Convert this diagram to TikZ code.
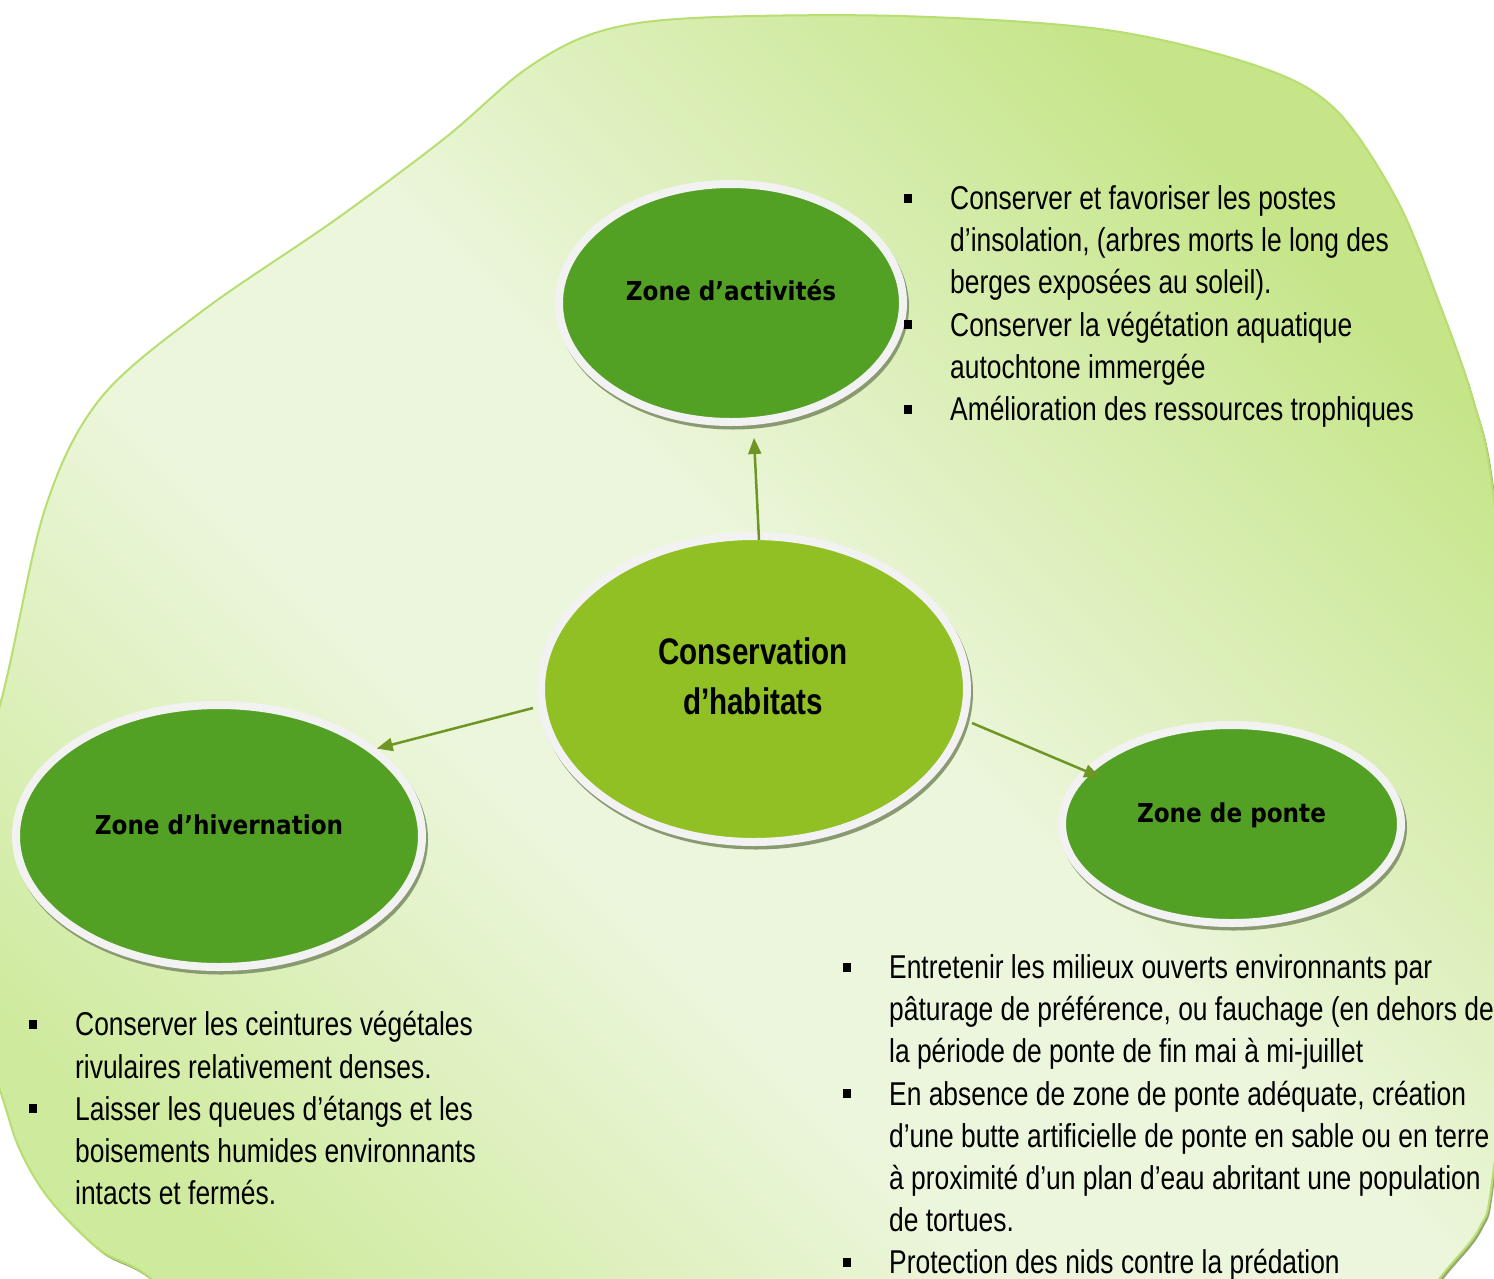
\documentclass[tikz,border=0pt]{standalone}
\usepackage{fontspec}
\setmainfont{Liberation Sans}
\newfontfamily\narrowfont[FakeStretch=0.8]{Liberation Sans}
\newfontfamily\zonefont[FakeStretch=0.89]{DejaVu Sans}
\usetikzlibrary{shapes.geometric,arrows.meta}
\definecolor{darkgr}{RGB}{83,161,36}
\definecolor{limegr}{RGB}{145,192,36}
\definecolor{ringc}{RGB}{242,242,242}
\definecolor{shadc}{RGB}{138,154,112}
\definecolor{arrc}{RGB}{111,150,36}
\definecolor{blobtr}{RGB}{197,229,136}
\definecolor{blobbl}{RGB}{206,234,156}
\definecolor{bloblight}{RGB}{236,246,220}
\definecolor{blobline}{RGB}{182,222,112}
\definecolor{blobshad}{RGB}{150,168,110}
\pgfdeclareverticalshading{blobsh}{100bp}{color(0bp)=(blobbl); color(25bp)=(blobbl);
  color(43bp)=(bloblight); color(54bp)=(bloblight); color(75bp)=(blobtr); color(100bp)=(blobtr)}
\newcommand{\bul}{\llap{\rule[7pt]{8pt}{9pt}\hspace{38pt}}}
\begin{document}
\begin{tikzpicture}[x=1pt,y=-1pt,
  zone/.style={ellipse, draw=ringc, line width=8pt, inner sep=0pt,
    preaction={draw=shadc, fill=shadc, line width=8pt,
      transform canvas={shift={(2pt,-3.5pt)}}}},
  zlabel/.style={font=\zonefont\bfseries\fontsize{26}{32}\selectfont, inner sep=0pt, anchor=base},
  body/.style={font=\narrowfont\fontsize{33}{42.2}\selectfont, align=left, inner sep=0pt, anchor=north west},
  arr/.style={draw=arrc, line width=2.5pt, -{Triangle[length=16pt,width=13pt]}}]
\useasboundingbox (0,0) rectangle (1494,1278);
\fill[white] (0,0) rectangle (1494,1278);
\begin{scope}
\clip (0,0) rectangle (1494,1278);
\def\blobpath{plot[smooth cycle, tension=0.55] coordinates {
 (-60,900) (0,705) (45,509) (100,399) (201,312) (335,220) (445,138) (526,69)
 (598,32) (694,18) (900,16) (1107,30) (1260,67) (1336,110) (1397,200)
 (1438,300) (1473,400) (1494,500) (1530,850) (1494,1167) (1480,1227)
 (1440,1278) (1380,1360) (800,1420) (230,1360) (150,1278) (100,1250)
 (50,1200) (20,1150) (0,1090)}}
\fill[blobshad, shift={(2pt,-3pt)}] \blobpath;
\shade[shading=blobsh, shading angle=-45] \blobpath;
\draw[blobline, line width=2pt] \blobpath;
\end{scope}

\node[zone, fill=darkgr, minimum width=344pt, minimum height=238pt] (act) at (731,303) {};
\node[zone, fill=limegr, minimum width=426pt, minimum height=306pt] (c) at (754,689) {};
\node[zone, fill=darkgr, minimum width=406pt, minimum height=262pt] (hiv) at (219,836) {};
\node[zone, fill=darkgr, minimum width=339pt, minimum height=198pt] (pon) at (1231.5,824) {};

\node[zlabel] (actL) at ([yshift=2.3pt]act.center) {Zone d’activités};
\node[zlabel] (hivL) at ([yshift=2pt]hiv.center) {Zone d’hivernation};
\node[zlabel] (ponL) at ([yshift=2pt]pon.center) {Zone de ponte};
\node[font=\narrowfont\bfseries\fontsize{37}{50}\selectfont, align=center, inner sep=0pt, anchor=north] (cL)
  at ([xshift=-1pt,yshift=52pt]c.center) {Conservation\\d’habitats};

\draw[arr] ([xshift=5pt,yshift=-8pt]c.north) -- ([xshift=23pt,yshift=-12pt]act.south);
\draw[arr] ([xshift=-4pt,yshift=-19pt]c.west) -- (hiv.29);
\draw[arr, shorten >=-18pt] ([xshift=1pt,yshift=-34pt]c.east) -- (pon.160);

\node[body] (actB) at (950,185.4) {\bul Conserver et favoriser les postes\\
d’insolation, (arbres morts le long des\\
berges exposées au soleil).\\
\bul Conserver la végétation aquatique\\
autochtone immergée\\
\bul Amélioration des ressources trophiques};

\node[body] (hivB) at (75,1011.4) {\bul Conserver les ceintures végétales\\
rivulaires relativement denses.\\
\bul Laisser les queues d’étangs et les\\
boisements humides environnants\\
intacts et fermés.};

\node[body] (ponB) at (889,954.4) {\bul Entretenir les milieux ouverts environnants par\\
pâturage de préférence, ou fauchage (en dehors de\\
la période de ponte de fin mai à mi-juillet\\
\bul En absence de zone de ponte adéquate, création\\
d’une butte artificielle de ponte en sable ou en terre\\
à proximité d’un plan d’eau abritant une population\\
de tortues.\\
\bul Protection des nids contre la prédation};
\end{tikzpicture}
\end{document}
